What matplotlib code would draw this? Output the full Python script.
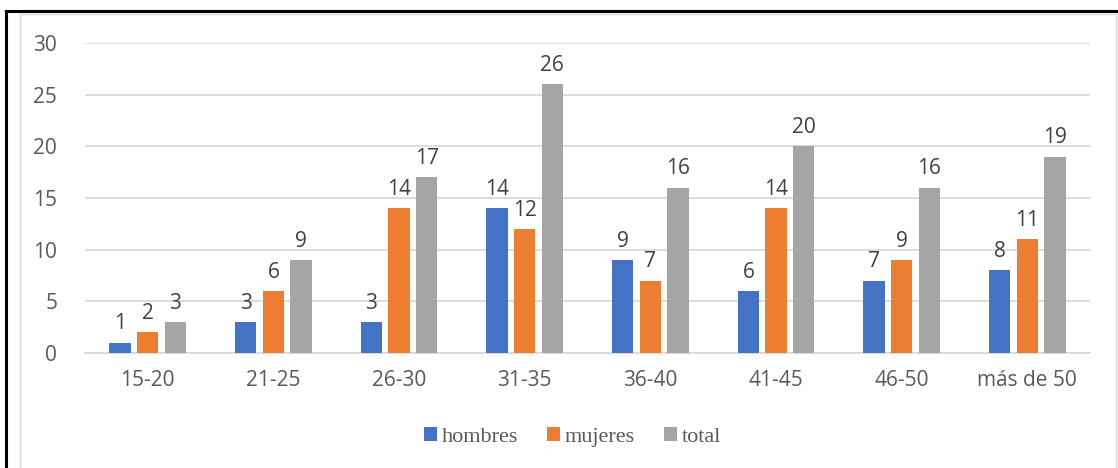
import numpy as np
import matplotlib.pyplot as plt
from matplotlib.lines import Line2D

# Data
categorias = ["15-20", "21-25", "26-30", "31-35", "36-40", "41-45", "46-50", "más de 50"]
hombres = [1, 3, 3, 14, 9, 6, 7, 8]
mujeres = [2, 6, 14, 12, 7, 14, 9, 11]
total = [3, 9, 17, 26, 16, 20, 16, 19]

series = [("hombres", hombres, "#4472C4"),
          ("mujeres", mujeres, "#ED7D31"),
          ("total", total, "#A5A5A5")]

fig = plt.figure(figsize=(11.18, 4.68), dpi=100)
ax = fig.add_axes([0.076, 0.246, 0.899, 0.662])

x = np.arange(len(categorias))
w = 0.17
step = 0.22
for i, (name, vals, col) in enumerate(series):
    pos = x + (i - 1) * step
    bars = ax.bar(pos, vals, width=w, color=col, label=name, zorder=3)
    for b, v in zip(bars, vals):
        ax.text(b.get_x() + b.get_width() / 2, v + 0.8, str(v),
                ha="center", va="bottom", fontsize=15, color="#404040",
                family="Open Sans")

ax.set_xlim(-0.5, len(categorias) - 0.5)
ax.set_ylim(0, 30)
ax.set_yticks(range(0, 31, 5))
ax.set_xticks(x)
ax.set_xticklabels(categorias)
ax.tick_params(length=0, labelsize=15, labelcolor="#595959", pad=12)
ax.tick_params(axis="y", pad=20)
for lab in ax.get_xticklabels() + ax.get_yticklabels():
    lab.set_family("Open Sans")
ax.grid(axis="y", color="#D9D9D9", linewidth=1.3, zorder=0)
for s in ["top", "right", "left"]:
    ax.spines[s].set_visible(False)
ax.spines["bottom"].set_color("#D9D9D9")
ax.spines["bottom"].set_linewidth(1.3)

leg = fig.legend(loc="center", bbox_to_anchor=(0.512, 0.066), ncol=3, frameon=False,
                 prop={"family": "Liberation Serif", "size": 16},
                 handlelength=0.6, handleheight=0.6, handletextpad=0.2, columnspacing=1.3)
for t in leg.get_texts():
    t.set_color("#595959")

# outer frame lines
fig.add_artist(Line2D([6 / 1118, 1], [1 - 11 / 468, 1 - 11 / 468], color="black", lw=2.2))
fig.add_artist(Line2D([6 / 1118, 6 / 1118], [0, 1 - 11 / 468], color="black", lw=2.2))
fig.add_artist(Line2D([20 / 1118, 1], [1 - 14 / 468, 1 - 14 / 468], color="#D9D9D9", lw=1))
fig.add_artist(Line2D([20 / 1118, 20 / 1118], [0, 1 - 14 / 468], color="#D9D9D9", lw=1))
fig.add_artist(Line2D([1116 / 1118, 1116 / 1118], [0, 1 - 14 / 468], color="#D9D9D9", lw=1))

fig.savefig("out.png", dpi=100)
